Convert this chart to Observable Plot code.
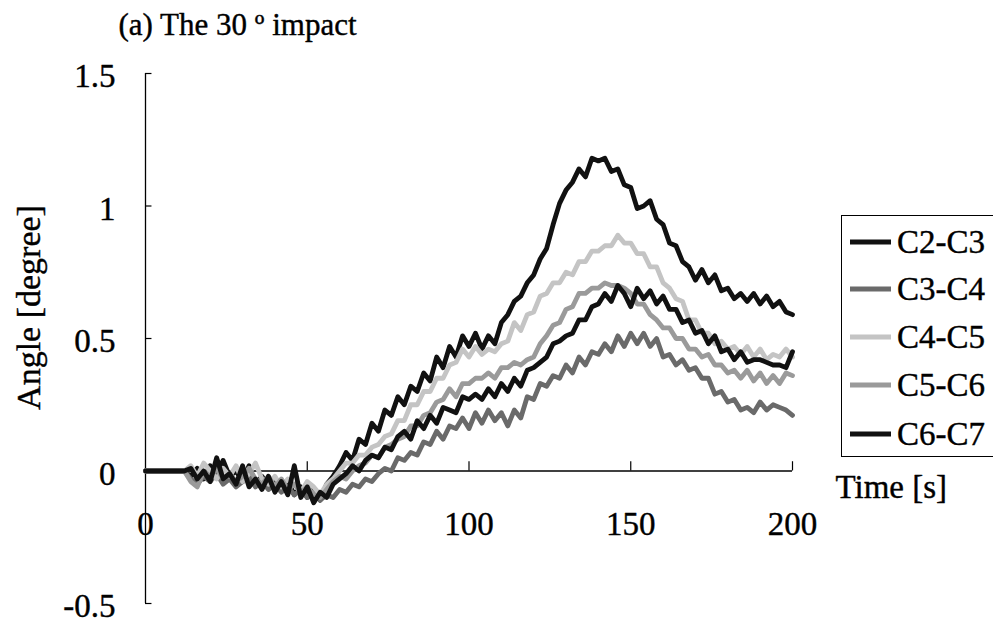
<!DOCTYPE html>
<html><head><meta charset="utf-8">
<script src="https://cdn.jsdelivr.net/npm/d3@7"></script>
<script src="https://cdn.jsdelivr.net/npm/@observablehq/plot@0.6"></script>
<style>
html,body{margin:0;padding:0;background:#fff;}
body{width:993px;height:623px;overflow:hidden;position:relative;font-family:"Liberation Serif","Times New Roman","DejaVu Serif",serif;}
#chart{position:absolute;left:0;top:0;}
#legend{position:absolute;left:841px;top:215px;width:220px;height:242px;border:1.5px solid #000;box-sizing:border-box;background:#fff;}
.item{position:absolute;left:0;height:40px;display:flex;align-items:center;font-size:33px;color:#000;white-space:nowrap;font-family:"Liberation Serif","Times New Roman",serif;-webkit-text-stroke:0.4px #000;}
.item svg{margin-left:7px;margin-right:5px;}
</style>
</head>
<body>
<div id="chart"></div>
<div id="legend"></div>
<script>
const title = "(a) The 30 º impact";
const yLabel = "Angle [degree]";
const xLabel = "Time [s]";
const seriesNames = ["C2-C3", "C3-C4", "C4-C5", "C5-C6", "C6-C7"];
const seriesColors = ["#111111", "#6a6a6a", "#c4c4c4", "#9a9a9a", "#111111"];
const xTicks = [0, 50, 100, 150, 200];
const yTicks = [-0.5, 0, 0.5, 1, 1.5];
const yTickLabels = ["-0.5", "0", "0.5", "1", "1.5"];

// time in seconds, every 2 s
const time = d3.range(0, 201, 2);

const c2c3 = [
  0,0,0,0,0,0,0,-0.02,0.01,-0.03,
  0.02,-0.01,0.04,-0.02,0.00,-0.04,0.02,-0.05,-0.02,-0.06,
  -0.03,-0.07,-0.04,-0.09,-0.06,-0.10,-0.07,-0.11,-0.05,-0.02,
  0.02,0.07,0.04,0.12,0.10,0.18,0.15,0.23,0.21,0.28,
  0.25,0.32,0.30,0.37,0.34,0.43,0.39,0.47,0.43,0.51,
  0.47,0.52,0.46,0.51,0.48,0.56,0.59,0.64,0.66,0.71,
  0.74,0.80,0.84,0.93,1.01,1.06,1.09,1.14,1.11,1.18,
  1.17,1.18,1.13,1.14,1.08,1.07,0.99,1.00,1.02,0.95,
  0.93,0.86,0.85,0.79,0.77,0.72,0.76,0.71,0.74,0.68,
  0.69,0.65,0.67,0.64,0.67,0.63,0.66,0.62,0.64,0.60,
  0.59
];
const c3c4 = [
  0,0,0,0,0,0,0,-0.03,-0.05,-0.02,
  -0.04,-0.01,-0.05,-0.03,-0.06,-0.04,-0.02,-0.06,-0.04,-0.07,
  -0.05,-0.08,-0.06,-0.09,-0.07,-0.10,-0.08,-0.11,-0.09,-0.10,
  -0.07,-0.08,-0.05,-0.06,-0.03,-0.04,-0.01,0.01,0.00,0.05,
  0.04,0.07,0.06,0.11,0.10,0.15,0.12,0.17,0.16,0.20,
  0.16,0.22,0.18,0.23,0.19,0.22,0.17,0.23,0.20,0.28,
  0.27,0.33,0.32,0.36,0.35,0.40,0.37,0.43,0.40,0.45,
  0.44,0.48,0.45,0.51,0.47,0.52,0.48,0.52,0.47,0.50,
  0.43,0.44,0.40,0.42,0.38,0.39,0.35,0.35,0.29,0.30,
  0.26,0.27,0.23,0.24,0.22,0.26,0.23,0.25,0.24,0.23,
  0.21
];
const c4c5 = [
  0,0,0,0,0,0,0,0.02,-0.02,0.03,
  0.00,-0.03,0.01,-0.02,0.02,-0.04,-0.01,0.03,-0.03,-0.05,
  -0.02,-0.06,-0.03,-0.05,-0.08,-0.04,-0.06,-0.09,-0.05,-0.03,
  0.00,0.03,0.03,0.06,0.06,0.09,0.10,0.13,0.14,0.19,
  0.19,0.25,0.25,0.30,0.30,0.35,0.35,0.40,0.41,0.46,
  0.43,0.47,0.44,0.46,0.45,0.48,0.49,0.56,0.53,0.59,
  0.60,0.66,0.67,0.71,0.71,0.75,0.74,0.79,0.79,0.83,
  0.83,0.85,0.85,0.89,0.86,0.86,0.82,0.82,0.77,0.77,
  0.71,0.69,0.65,0.64,0.57,0.57,0.52,0.52,0.48,0.49,
  0.46,0.47,0.44,0.47,0.43,0.46,0.42,0.44,0.43,0.46,
  0.43
];
const c5c6 = [
  0,0,0,0,0,0,0,-0.04,-0.06,0.00,
  -0.02,0.01,-0.03,-0.01,-0.04,-0.02,0.01,-0.03,-0.05,-0.02,
  -0.06,-0.03,-0.07,-0.05,-0.08,-0.06,-0.09,-0.10,-0.07,-0.04,
  -0.02,-0.03,0.00,0.02,0.03,0.06,0.05,0.09,0.10,0.12,
  0.13,0.17,0.17,0.21,0.22,0.26,0.27,0.31,0.28,0.33,
  0.33,0.35,0.35,0.37,0.35,0.39,0.39,0.41,0.40,0.42,
  0.43,0.48,0.51,0.55,0.56,0.61,0.62,0.67,0.67,0.69,
  0.69,0.71,0.70,0.70,0.69,0.67,0.63,0.63,0.59,0.57,
  0.54,0.54,0.50,0.50,0.46,0.46,0.43,0.44,0.40,0.40,
  0.37,0.38,0.35,0.38,0.34,0.37,0.33,0.36,0.33,0.37,
  0.36
];
const c6c7 = [
  0,0,0,0,0,0,0,0.01,-0.03,0.00,
  -0.04,0.05,-0.03,-0.01,-0.05,0.02,-0.06,-0.03,-0.07,-0.02,
  -0.08,-0.04,-0.09,0.02,-0.10,-0.06,-0.12,-0.08,-0.10,-0.05,
  -0.03,-0.01,0.02,0.00,0.04,0.06,0.05,0.09,0.08,0.13,
  0.15,0.12,0.19,0.16,0.21,0.18,0.24,0.23,0.22,0.28,
  0.27,0.29,0.27,0.31,0.28,0.33,0.30,0.35,0.32,0.38,
  0.39,0.41,0.43,0.48,0.49,0.51,0.52,0.57,0.57,0.62,
  0.63,0.67,0.64,0.70,0.67,0.62,0.69,0.65,0.68,0.63,
  0.66,0.61,0.61,0.56,0.57,0.52,0.53,0.48,0.51,0.45,
  0.46,0.42,0.45,0.41,0.42,0.42,0.41,0.40,0.40,0.39,
  0.45
];

const seriesValues = [c2c3, c3c4, c4c5, c5c6, c6c7];
const rows = [];
seriesNames.forEach((name, i) => {
  seriesValues[i].forEach((v, j) => rows.push({series: name, time: time[j], value: v}));
});

const font = "Liberation Serif";
const textStyle = {fontFamily: font, fill: "#000", stroke: "#000", strokeWidth: 0.4};
const chart = Plot.plot({
  width: 993,
  height: 623,
  marginLeft: 145,
  marginRight: 201,
  marginTop: 73,
  marginBottom: 20,
  x: {domain: [0, 200], axis: null},
  y: {domain: [-0.5, 1.5], axis: null},
  color: {domain: seriesNames, range: seriesColors},
  style: {fontFamily: font, fontSize: "32px", background: "white", overflow: "visible"},
  marks: [
    Plot.ruleX([0], {stroke: "#000", strokeWidth: 1.3}),
    Plot.ruleY([0], {stroke: "#000", strokeWidth: 1.3}),
    Plot.ruleY(yTicks, {y: d => d, x1: 0, x2: 2, stroke: "#000", strokeWidth: 1.2}),
    Plot.ruleX(xTicks.slice(1), {x: d => d, y1: 0, y2: 0.035, stroke: "#000", strokeWidth: 1.2}),
    Plot.line(rows, {x: "time", y: "value", z: "series", stroke: "series", strokeWidth: 4.8, strokeLinejoin: "round", strokeLinecap: "round", curve: "linear"}),
    Plot.text(yTicks, {y: d => d, text: (d, i) => yTickLabels[i], frameAnchor: "left", dx: -30, dy: 3, textAnchor: "end", lineAnchor: "middle", fontSize: 33, ...textStyle}),
    Plot.text(xTicks, {x: d => d, text: d => String(d), frameAnchor: "bottom", dy: -79, textAnchor: "middle", lineAnchor: "middle", fontSize: 33, ...textStyle}),
    Plot.text([yLabel], {frameAnchor: "left", dx: -116, dy: -31, rotate: -90, textAnchor: "middle", lineAnchor: "middle", fontSize: 34, ...textStyle}),
    Plot.text([xLabel], {frameAnchor: "right", dx: 43, dy: 149, textAnchor: "start", lineAnchor: "middle", fontSize: 33, ...textStyle}),
    Plot.text([title], {frameAnchor: "top-left", dx: -27, dy: -48, textAnchor: "start", lineAnchor: "middle", fontSize: 31, ...textStyle})
  ]
});
document.getElementById("chart").appendChild(chart);

// legend
const legend = document.getElementById("legend");
const centers = [26, 73, 121, 169, 218];
seriesNames.forEach((name, i) => {
  const item = document.createElement("div");
  item.className = "item";
  item.style.top = (centers[i] - 20) + "px";
  item.innerHTML = `<svg width="43" height="8"><line x1="1" y1="4" x2="42" y2="4" stroke="${seriesColors[i]}" stroke-width="5"/></svg><span>${name}</span>`;
  legend.appendChild(item);
});
</script>
</body></html>
